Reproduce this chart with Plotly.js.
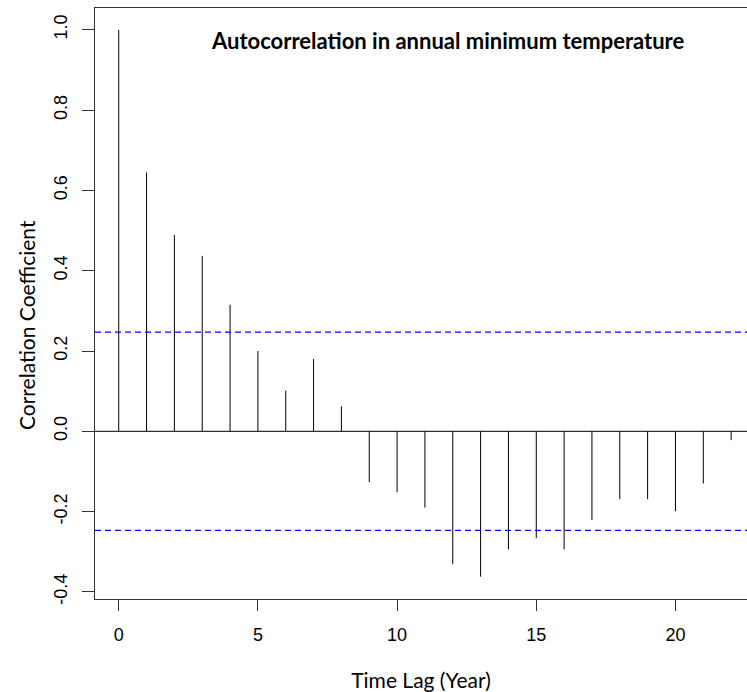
<!DOCTYPE html>
<html>
<head>
<meta charset="utf-8">
<script src="https://cdn.plot.ly/plotly-3.0.1.min.js"></script>
<style>html,body{margin:0;padding:0;background:#fff;}#chart{width:747px;height:692px;}</style>
</head>
<body>
<div id="chart"></div>
<script>
// Data
const lags = [0,1,2,3,4,5,6,7,8,9,10,11,12,13,14,15,16,17,18,19,20,21,22];
const acfValues = [1.0,0.645,0.489,0.437,0.315,0.200,0.101,0.180,0.062,-0.127,-0.152,-0.190,-0.331,-0.362,-0.294,-0.266,-0.294,-0.221,-0.169,-0.169,-0.199,-0.130,-0.022];
const confLimit = 0.247;
const yTickVals = [-0.4,-0.2,0.0,0.2,0.4,0.6,0.8,1.0];
const yTickText = ["-0.4","-0.2","0.0","0.2","0.4","0.6","0.8","1.0"];
const xTickVals = [0,5,10,15,20];
const titleText = "Autocorrelation in annual minimum temperature";
const xTitle = "Time Lag (Year)";
const yTitle = "Correlation Coefficient";

// Build vertical spikes (type "h") from the data
const sx = [], sy = [];
lags.forEach((l,i)=>{ sx.push(l,l,null); sy.push(0,acfValues[i],null); });

const xr = [-0.852, 22.57];
const traces = [
  {x: sx, y: sy, mode:'lines', type:'scatter', line:{color:'#000', width:1}, hoverinfo:'skip', showlegend:false},
  {x: xr, y:[0,0], mode:'lines', type:'scatter', line:{color:'#000', width:1}, hoverinfo:'skip', showlegend:false},
  {x: xr, y:[confLimit,confLimit], mode:'lines', type:'scatter', line:{color:'#0000FF', width:1.2, dash:'6px,4px'}, hoverinfo:'skip', showlegend:false},
  {x: xr, y:[-confLimit,-confLimit], mode:'lines', type:'scatter', line:{color:'#0000FF', width:1.2, dash:'6px,4px'}, hoverinfo:'skip', showlegend:false}
];

const layout = {
  width:747, height:692,
  margin:{l:95, r:0, t:8, b:93},
  paper_bgcolor:'#fff', plot_bgcolor:'#fff',
  showlegend:false,
  xaxis:{
    range: xr, showgrid:false, zeroline:false,
    showline:true, linecolor:'#333', linewidth:1, mirror:true,
    ticks:'outside', ticklen:11, tickcolor:'#333', tickwidth:1,
    tickvals: xTickVals, ticktext: xTickVals.map(String), ticklabelstandoff:8,
    tickfont:{family:'Liberation Sans, Arial, sans-serif', size:18, color:'#000'},
    title:{text:xTitle, standoff:30, font:{family:'Lato, sans-serif', size:21, color:'#000'}}
  },
  yaxis:{
    range:[-0.4177, 1.0543], showgrid:false, zeroline:false,
    showline:true, linecolor:'#333', linewidth:1, mirror:false,
    ticks:'outside', ticklen:12, tickcolor:'#333', tickwidth:1,
    tickvals: yTickVals, ticktext: yTickText, tickangle:-90, ticklabelstandoff:8,
    tickfont:{family:'Liberation Sans, Arial, sans-serif', size:18, color:'#000'}
  },
  annotations:[{
    text:'<b>'+titleText+'</b>', xref:'paper', yref:'paper',
    x:(447-95)/652, y:(599-41)/591, xanchor:'center', yanchor:'middle', showarrow:false,
    font:{family:'Lato, sans-serif', size:22, color:'#000'}
  },{
    text:yTitle, xref:'paper', yref:'paper', textangle:-90,
    x:(26-95)/652, y:(599-325)/591, xanchor:'center', yanchor:'middle', showarrow:false,
    font:{family:'Lato, sans-serif', size:21, color:'#000'}
  }]
};

Plotly.newPlot('chart', traces, layout, {displayModeBar:false, staticPlot:true});
</script>
</body>
</html>
